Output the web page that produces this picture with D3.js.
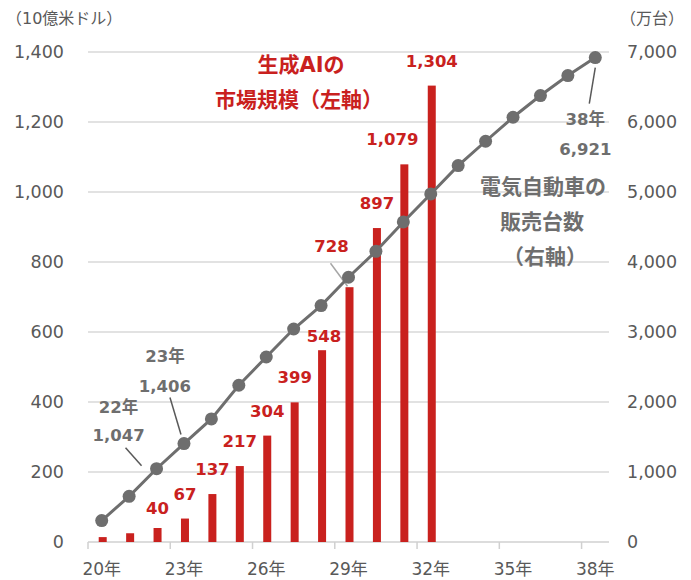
<!DOCTYPE html>
<html><head><meta charset="utf-8">
<script src="https://cdn.jsdelivr.net/npm/d3@7"></script>
<style>body{margin:0;background:#fff} svg{display:block}</style>
</head><body>
<svg id="c" width="691" height="580"></svg>
<script>
// ---- data ----
const years = ["20年","21年","22年","23年","24年","25年","26年","27年","28年","29年","30年","31年","32年","33年","34年","35年","36年","37年","38年"];
const aiMarket = [14,25,40,67,137,217,304,399,548,728,897,1079,1304,null,null,null,null,null,null];
const evSales = [306,653,1047,1406,1758,2239,2643,3043,3378,3782,4153,4572,4972,5377,5725,6068,6378,6663,6921];
const leftTicks = [0,200,400,600,800,1000,1200,1400];
const rightTicks = [0,1000,2000,3000,4000,5000,6000,7000];
const xTickLabels = ["20年","23年","26年","29年","32年","35年","38年"];
const evCallouts = ["22年","23年","38年"];
const aiLabelFrom = "22年";

// ---- styles ----
const FONT = '"DejaVu Sans","Noto Sans CJK JP",sans-serif';
const RED = "#C9211E", GRAY = "#6e6e6e", TICK = "#595959", GRID = "#d9d9d9";
const fmt = d3.format(",");

const svg = d3.select("#c").style("font-family", FONT);
const L = 88, R = 609, B = 542, T = 52;

const x = d3.scaleBand().domain(years).range([L, R]).padding(0);
const yL = d3.scaleLinear().domain([0, 1400]).range([B, T]);
const yR = d3.scaleLinear().domain([0, 7000]).range([B, T]);
const cx = d => x(d) + x.bandwidth() / 2;

// gridlines
svg.append("g").selectAll("line").data(leftTicks.filter(d => d > 0)).join("line")
  .attr("x1", L).attr("x2", R).attr("y1", d => yL(d)).attr("y2", d => yL(d))
  .attr("stroke", GRID).attr("stroke-width", 1.5);

// left axis labels
const axL = svg.append("g").attr("transform", `translate(${L - 24},0)`)
  .call(d3.axisLeft(yL).tickValues(leftTicks).tickFormat(fmt).tickSize(0).tickPadding(0));
axL.select(".domain").remove();
axL.selectAll("text").attr("fill", TICK).style("font-size", "17.5px").style("font-family", FONT);

// right axis labels
const axR = svg.append("g").attr("transform", `translate(${R + 18},0)`)
  .call(d3.axisRight(yR).tickValues(rightTicks).tickFormat(fmt).tickSize(0).tickPadding(0));
axR.select(".domain").remove();
axR.selectAll("text").attr("fill", TICK).style("font-size", "17.5px").style("font-family", FONT);

// x axis
svg.append("line").attr("x1", L).attr("x2", R).attr("y1", B).attr("y2", B)
  .attr("stroke", "#d0d0d0").attr("stroke-width", 1.5);
svg.append("g").selectAll("line").data(xTickLabels).join("line")
  .attr("x1", d => x(d)).attr("x2", d => x(d)).attr("y1", B).attr("y2", B + 7)
  .attr("stroke", "#d0d0d0").attr("stroke-width", 1.5);
svg.append("g").selectAll("text").data(xTickLabels).join("text")
  .attr("x", d => cx(d)).attr("y", 575).attr("text-anchor", "middle")
  .attr("fill", TICK).style("font-size", "17px").text(d => d);

// axis titles
svg.append("text").attr("x", 6).attr("y", 24).attr("fill", TICK).style("font-size", "16px").text("（10億米ドル）");
svg.append("text").attr("x", 652).attr("y", 24).attr("text-anchor", "middle").attr("fill", TICK).style("font-size", "16px").text("（万台）");

// bars
const barData = years.map((yr, i) => ({ yr, v: aiMarket[i], i })).filter(d => d.v != null);
const bw = 8;
svg.append("g").selectAll("rect").data(barData).join("rect")
  .attr("x", d => cx(d.yr) - bw / 2 + 1).attr("width", bw)
  .attr("y", d => yL(d.v)).attr("height", d => B - yL(d.v)).attr("fill", RED);

// bar labels
const labelAdj = { 2: [0, 5], 8: [2, 11], 9: [-18, -16], 11: [-12, 0] };
const labeled = barData.filter(d => d.i >= years.indexOf(aiLabelFrom));
svg.append("g").selectAll("text").data(labeled).join("text")
  .attr("x", d => cx(d.yr) + 1 + (labelAdj[d.i] ? labelAdj[d.i][0] : 0))
  .attr("y", d => yL(d.v) - 19 + (labelAdj[d.i] ? labelAdj[d.i][1] : 0))
  .attr("text-anchor", "middle").attr("fill", RED)
  .style("font-size", "16.5px").style("font-weight", "bold").text(d => fmt(d.v));
// leader for 728
{
  const yr = years[9];
  svg.append("line").attr("x1", cx(yr) - 18).attr("y1", yL(aiMarket[9]) - 24)
    .attr("x2", cx(yr) - 1).attr("y2", yL(aiMarket[9]) - 1)
    .attr("stroke", "#a6a6a6").attr("stroke-width", 1.5);
}

// line
const line = d3.line().x((d, i) => cx(years[i])).y(d => yR(d));
svg.append("path").datum(evSales).attr("d", line)
  .attr("fill", "none").attr("stroke", GRAY).attr("stroke-width", 3);
svg.append("g").selectAll("circle").data(evSales).join("circle")
  .attr("cx", (d, i) => cx(years[i])).attr("cy", d => yR(d)).attr("r", 6.5).attr("fill", GRAY);

// line callouts
const callAdj = {
  "22年": { dx: -38, yr: -63, yv: -34, l: [-31, -21, -15, -3] },
  "23年": { dx: -19, yr: -89, yv: -58, l: [-14, -46, -3, -9] },
  "38年": { dx: -10, yr: 60, yv: 91, l: [0, 10, -6, 46] }
};
evCallouts.forEach(yr => {
  const i = years.indexOf(yr), px = cx(yr), py = yR(evSales[i]), a = callAdj[yr];
  const g = svg.append("g").attr("fill", GRAY).style("font-weight", "bold").style("font-size", "16.5px").attr("text-anchor", "middle");
  g.append("text").attr("x", px + a.dx).attr("y", py + a.yr + 7).text(yr);
  g.append("text").attr("x", px + a.dx).attr("y", py + a.yv + 6).text(fmt(evSales[i]));
  svg.append("line").attr("x1", px + a.l[0]).attr("y1", py + a.l[1]).attr("x2", px + a.l[2]).attr("y2", py + a.l[3])
    .attr("stroke", "#595959").attr("stroke-width", 1.5);
});

// series annotations
const ann1 = svg.append("g").attr("fill", RED).style("font-weight", "bold").style("font-size", "21px").attr("text-anchor", "middle");
ann1.append("text").attr("x", 301).attr("y", 72).text("生成AIの");
ann1.append("text").attr("x", 299).attr("y", 107).text("市場規模（左軸）");
const ann2 = svg.append("g").attr("fill", GRAY).style("font-weight", "bold").style("font-size", "21px").attr("text-anchor", "middle");
ann2.append("text").attr("x", 543).attr("y", 194).text("電気自動車の");
ann2.append("text").attr("x", 542).attr("y", 229).text("販売台数");
ann2.append("text").attr("x", 545).attr("y", 264).text("（右軸）");
</script>
</body></html>
